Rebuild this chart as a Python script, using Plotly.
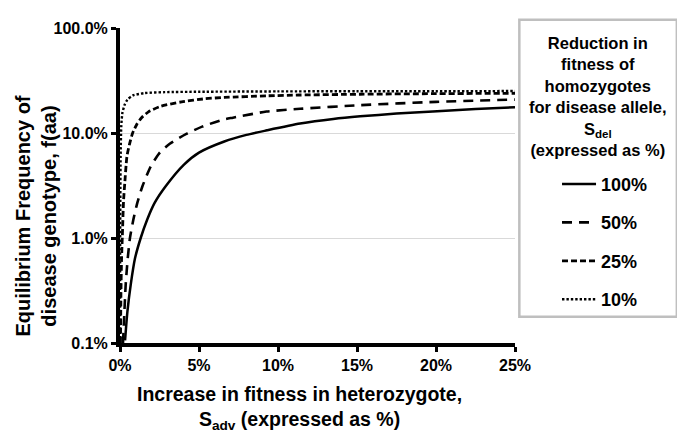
import plotly.graph_objects as go

# ---- data (x = S_adv in %, y = f(aa) in %) ----
x_100 = [0.32, 0.47, 0.68, 0.95, 1.31, 1.73, 2.20, 2.89, 4.05, 5.00, 6.60, 8.00, 9.30, 11.4, 13.5, 15.2, 17.5, 19.8, 22.5, 25.0]
y_100 = [0.106, 0.20, 0.36, 0.64, 1.00, 1.51, 2.17, 3.11, 5.00, 6.50, 8.30, 9.60, 10.6, 12.3, 13.6, 14.4, 15.3, 16.0, 16.9, 17.6]

x_50 = [0.19, 0.28, 0.36, 0.49, 0.63, 0.85, 1.10, 1.42, 1.94, 2.47, 3.15, 4.20, 5.20, 6.60, 7.15, 9.27, 11.4, 15.2, 20.0, 25.0]
y_50 = [0.10, 0.20, 0.36, 0.64, 1.00, 1.51, 2.17, 3.11, 4.78, 6.37, 7.90, 9.80, 11.5, 13.5, 14.0, 16.0, 17.0, 18.4, 19.8, 20.8]

x_25 = [0.03, 0.06, 0.10, 0.15, 0.22, 0.30, 0.44, 0.60, 0.80, 1.05, 1.35, 1.80, 2.60, 3.90, 5.40, 6.60, 9.30, 11.4, 15.2, 20.0, 25.0]
y_25 = [0.10, 0.30, 0.65, 1.05, 2.20, 3.30, 6.00, 7.80, 10.0, 12.0, 13.9, 15.9, 18.0, 19.8, 21.2, 21.8, 22.6, 23.0, 23.4, 23.7, 23.9]

x_10 = [0.003, 0.01, 0.02, 0.04, 0.08, 0.15, 0.30, 0.47, 0.82, 1.56, 2.83, 5.0, 10.0, 15.0, 20.0, 25.0]
y_10 = [0.10, 0.80, 2.30, 6.00, 11.5, 15.5, 18.7, 20.8, 22.8, 24.0, 24.5, 24.7, 24.9, 25.0, 25.0, 25.1]

series_names = ["100%", "50%", "25%", "10%"]
x_ticks = [0, 5, 10, 15, 20, 25]
x_tick_text = ["0%", "5%", "10%", "15%", "20%", "25%"]
y_ticks = [0.1, 1, 10, 100]
y_tick_text = ["0.1%", "1.0%", "10.0%", "100.0%"]

FONT = "Liberation Sans, Arial, sans-serif"

styles = [
    dict(width=2.5, dash="solid"),
    dict(width=2.6, dash="10px,7px"),
    dict(width=2.8, dash="6px,3px"),
    dict(width=2.4, dash="2.4px,2px"),
]

fig = go.Figure()
for i, (xs, ys) in enumerate([(x_100, y_100), (x_50, y_50), (x_25, y_25), (x_10, y_10)]):
    fig.add_trace(go.Scatter(
        x=xs, y=ys, mode="lines", name=series_names[i],
        legendgroup=series_names[i],
        line=dict(color="black", shape="spline", smoothing=0.6, **styles[i]),
        hoverinfo="skip",
    ))

fig.update_layout(
    width=677, height=425,
    margin=dict(l=112, r=170, t=14, b=90),
    paper_bgcolor="white", plot_bgcolor="white",
    font=dict(family=FONT, color="black"),
    showlegend=True,
    legend=dict(
        x=1.1064, y=0.5625, xanchor="left", yanchor="top",
        xref="paper", yref="paper",
        traceorder="grouped", tracegroupgap=12, itemwidth=34,
        font=dict(size=18, weight="bold", family=FONT),
        bgcolor="rgba(0,0,0,0)", borderwidth=0,
    ),
    xaxis=dict(
        range=[0, 25], tickvals=x_ticks, ticktext=x_tick_text,
        showgrid=False, zeroline=False,
        showline=True, linecolor="black", linewidth=4,
        ticks="outside", ticklen=5, tickwidth=3, tickcolor="black",
        tickfont=dict(size=16, weight="bold", family=FONT),
    ),
    yaxis=dict(
        type="log", range=[-1, 2], tickvals=y_ticks, ticktext=y_tick_text,
        showgrid=True, gridcolor="#d9d9d9", gridwidth=1, zeroline=False,
        showline=True, linecolor="black", linewidth=4,
        ticks="outside", ticklen=5, tickwidth=3, tickcolor="black",
        tickfont=dict(size=16, weight="bold", family=FONT),
    ),
    xaxis2=dict(
        overlaying="x", anchor="y", side="bottom", range=[0, 25], tickvals=x_ticks,
        showticklabels=False, showgrid=False, zeroline=False, showline=False,
        ticks="inside", ticklen=5, tickwidth=3, tickcolor="black",
    ),
    yaxis2=dict(
        overlaying="y", anchor="x", side="left", type="log", range=[-1, 2], tickvals=y_ticks,
        showticklabels=False, showgrid=False, zeroline=False, showline=False,
        ticks="inside", ticklen=5, tickwidth=3, tickcolor="black",
    ),
)

# axis titles
fig.add_annotation(
    text="Increase in fitness in heterozygote,<br>S<sub>adv</sub> (expressed as %)",
    xref="paper", yref="paper", x=0.455, y=-0.205, xanchor="center", yanchor="middle",
    showarrow=False, font=dict(size=19.5, weight="bold", family=FONT),
)
fig.add_annotation(
    text="Equilibrium Frequency of<br>disease genotype, f(aa)",
    xref="paper", yref="paper", x=-0.213, y=0.404, xanchor="center", yanchor="middle",
    textangle=-90, showarrow=False, font=dict(size=20, weight="bold", family=FONT),
)

# legend frame and title
fig.add_shape(
    type="rect", xref="paper", yref="paper", x0=1.011, x1=1.4097, y0=0.083, y1=1.026,
    line=dict(color="#bfbfbf", width=2.5), fillcolor="rgba(0,0,0,0)", layer="above",
)
fig.add_annotation(
    text="Reduction in<br>fitness of<br>homozygotes<br>for disease allele,<br>S<sub>del</sub><br>(expressed as %)",
    xref="paper", yref="paper", x=1.210, y=0.784, xanchor="center", yanchor="middle",
    align="center", showarrow=False, font=dict(size=16.5, weight="bold", family=FONT),
)

fig.write_html("out.html")
